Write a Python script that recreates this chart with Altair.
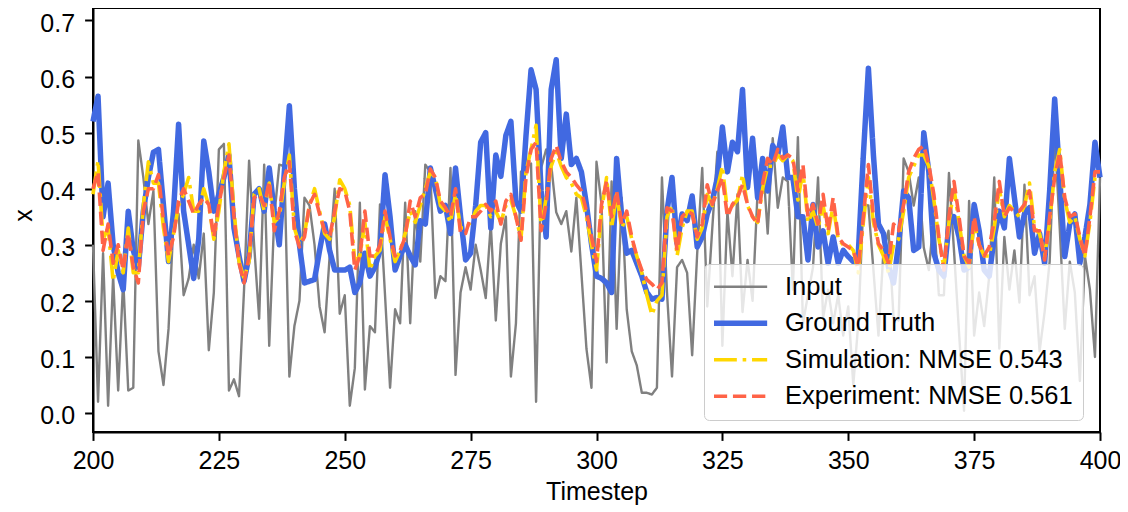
import altair as alt
import pandas as pd

timesteps = list(range(200, 401))

input_vals = [
    0.30, 0.02, 0.285, 0.013, 0.244, 0.04, 0.238, 0.04, 0.045, 0.486,
    0.42, 0.337, 0.396, 0.11, 0.05, 0.15, 0.343, 0.355, 0.21, 0.24,
    0.30, 0.24, 0.32, 0.112, 0.215, 0.47, 0.48, 0.04, 0.06, 0.03,
    0.22, 0.45, 0.30, 0.168, 0.443, 0.12, 0.35, 0.443, 0.44, 0.065,
    0.155, 0.20, 0.384, 0.37, 0.30, 0.19, 0.144, 0.28, 0.40, 0.177,
    0.21, 0.013, 0.08, 0.375, 0.042, 0.155, 0.144, 0.372, 0.21, 0.045,
    0.185, 0.16, 0.375, 0.16, 0.36, 0.27, 0.443, 0.43, 0.205, 0.244,
    0.235, 0.437, 0.068, 0.215, 0.26, 0.22, 0.30, 0.255, 0.205, 0.337,
    0.165, 0.302, 0.35, 0.065, 0.16, 0.43, 0.44, 0.445, 0.02, 0.437,
    0.47, 0.443, 0.358, 0.337, 0.36, 0.288, 0.384, 0.25, 0.115, 0.045,
    0.448, 0.372, 0.09, 0.413, 0.15, 0.384, 0.185, 0.11, 0.085, 0.036,
    0.036, 0.033, 0.045, 0.42, 0.215, 0.065, 0.26, 0.273, 0.25, 0.103,
    0.285, 0.437, 0.19, 0.33, 0.466, 0.12, 0.36, 0.244, 0.39, 0.18,
    0.273, 0.20, 0.396, 0.454, 0.32, 0.49, 0.366, 0.42, 0.413, 0.22,
    0.492, 0.16, 0.21, 0.26, 0.42, 0.17, 0.22, 0.16, 0.21, 0.138,
    0.19, 0.05, 0.16, 0.372, 0.37, 0.255, 0.138, 0.29, 0.325, 0.17,
    0.165, 0.454, 0.43, 0.37, 0.42, 0.295, 0.255, 0.35, 0.21, 0.21,
    0.428, 0.29, 0.144, 0.004, 0.378, 0.138, 0.215, 0.155, 0.244, 0.42,
    0.115, 0.314, 0.22, 0.29, 0.197, 0.407, 0.21, 0.244, 0.11, 0.18,
    0.27, 0.50, 0.33, 0.15, 0.27, 0.215, 0.057, 0.28, 0.22, 0.10,
    0.42,
]

gt_vals = [
    0.52, 0.565, 0.35, 0.41, 0.30, 0.25, 0.22, 0.36, 0.29, 0.26,
    0.36, 0.42, 0.465, 0.47, 0.37, 0.27, 0.36, 0.515, 0.36, 0.30,
    0.24, 0.31, 0.485, 0.43, 0.36, 0.39, 0.42, 0.46, 0.33, 0.28,
    0.235, 0.28, 0.39, 0.40, 0.36, 0.437, 0.36, 0.30, 0.43, 0.548,
    0.40, 0.30, 0.232, 0.235, 0.238, 0.29, 0.337, 0.29, 0.255, 0.255,
    0.255, 0.26, 0.215, 0.232, 0.285, 0.244, 0.26, 0.29, 0.425, 0.35,
    0.255, 0.28, 0.30, 0.28, 0.264, 0.343, 0.337, 0.437, 0.40, 0.36,
    0.37, 0.32, 0.437, 0.35, 0.273, 0.285, 0.37, 0.483, 0.50, 0.33,
    0.46, 0.422, 0.495, 0.52, 0.378, 0.36, 0.495, 0.612, 0.577, 0.396,
    0.314, 0.577, 0.63, 0.454, 0.533, 0.443, 0.454, 0.43, 0.372, 0.302,
    0.244, 0.24, 0.232, 0.215, 0.454, 0.35, 0.285, 0.29, 0.267, 0.244,
    0.215, 0.203, 0.206, 0.203, 0.36, 0.42, 0.302, 0.355, 0.343, 0.387,
    0.296, 0.314, 0.355, 0.378, 0.42, 0.51, 0.43, 0.483, 0.466, 0.577,
    0.402, 0.49, 0.384, 0.454, 0.396, 0.477, 0.46, 0.51, 0.42, 0.42,
    0.35, 0.35, 0.273, 0.372, 0.296, 0.325, 0.267, 0.314, 0.267, 0.29,
    0.279, 0.27, 0.285, 0.46, 0.615, 0.46, 0.337, 0.32, 0.26, 0.232,
    0.302, 0.396, 0.384, 0.29, 0.296, 0.50, 0.43, 0.285, 0.255, 0.244,
    0.337, 0.35, 0.314, 0.255, 0.26, 0.372, 0.325, 0.255, 0.244, 0.314,
    0.36, 0.33, 0.454, 0.384, 0.314, 0.355, 0.366, 0.285, 0.32, 0.267,
    0.396, 0.56, 0.42, 0.279, 0.337, 0.355, 0.267, 0.314, 0.372, 0.483,
    0.42,
]

sim_vals = [
    0.39, 0.45, 0.31, 0.33, 0.235, 0.29, 0.25, 0.33, 0.25, 0.25,
    0.37, 0.448, 0.41, 0.41, 0.33, 0.27, 0.32, 0.37, 0.39, 0.42,
    0.36, 0.36, 0.40, 0.37, 0.31, 0.36, 0.43, 0.48, 0.36, 0.27,
    0.24, 0.27, 0.39, 0.40, 0.36, 0.41, 0.34, 0.35, 0.41, 0.46,
    0.33, 0.30, 0.32, 0.37, 0.40, 0.36, 0.32, 0.31, 0.35, 0.416,
    0.40, 0.37, 0.27, 0.28, 0.34, 0.255, 0.28, 0.29, 0.35, 0.31,
    0.27, 0.29, 0.32, 0.36, 0.34, 0.37, 0.40, 0.43, 0.42, 0.37,
    0.36, 0.34, 0.39, 0.33, 0.33, 0.34, 0.36, 0.37, 0.37, 0.35,
    0.36, 0.34, 0.37, 0.38, 0.35, 0.31, 0.43, 0.47, 0.513, 0.33,
    0.384, 0.44, 0.466, 0.44, 0.42, 0.41, 0.39, 0.384, 0.35, 0.30,
    0.255, 0.36, 0.42, 0.33, 0.39, 0.33, 0.35, 0.31, 0.28, 0.25,
    0.21, 0.175, 0.20, 0.21, 0.35, 0.37, 0.28, 0.33, 0.36, 0.36,
    0.31, 0.33, 0.39, 0.37, 0.40, 0.44, 0.36, 0.37, 0.38, 0.425,
    0.37, 0.35, 0.34, 0.40, 0.44, 0.44, 0.46, 0.45, 0.46, 0.45,
    0.38, 0.43, 0.34, 0.36, 0.33, 0.37, 0.32, 0.37, 0.31, 0.30,
    0.30, 0.29, 0.25, 0.34, 0.42, 0.34, 0.30, 0.28, 0.25, 0.30,
    0.31, 0.36, 0.42, 0.44, 0.46, 0.46, 0.44, 0.38, 0.31, 0.26,
    0.34, 0.40, 0.34, 0.28, 0.26, 0.34, 0.30, 0.28, 0.28, 0.33,
    0.40, 0.35, 0.37, 0.36, 0.35, 0.37, 0.41, 0.33, 0.32, 0.28,
    0.34, 0.43, 0.47, 0.38, 0.34, 0.35, 0.31, 0.28, 0.34, 0.42,
    0.42,
]

exp_vals = [
    0.40, 0.43, 0.29, 0.337, 0.267, 0.30, 0.255, 0.32, 0.26, 0.232,
    0.36, 0.40, 0.40, 0.425, 0.343, 0.28, 0.314, 0.378, 0.40, 0.378,
    0.355, 0.372, 0.384, 0.372, 0.314, 0.372, 0.42, 0.46, 0.35, 0.267,
    0.232, 0.28, 0.384, 0.39, 0.37, 0.413, 0.325, 0.36, 0.42, 0.448,
    0.325, 0.296, 0.314, 0.372, 0.39, 0.355, 0.325, 0.314, 0.36, 0.40,
    0.396, 0.36, 0.255, 0.28, 0.36, 0.28, 0.28, 0.30, 0.36, 0.314,
    0.28, 0.29, 0.314, 0.378, 0.35, 0.384, 0.39, 0.435, 0.42, 0.378,
    0.366, 0.35, 0.40, 0.32, 0.32, 0.35, 0.35, 0.36, 0.372, 0.36,
    0.378, 0.337, 0.378, 0.39, 0.35, 0.308, 0.42, 0.47, 0.483, 0.325,
    0.372, 0.454, 0.477, 0.448, 0.43, 0.42, 0.407, 0.396, 0.36, 0.314,
    0.27, 0.372, 0.413, 0.35, 0.396, 0.337, 0.36, 0.314, 0.28, 0.255,
    0.238, 0.23, 0.22, 0.232, 0.366, 0.36, 0.29, 0.35, 0.36, 0.355,
    0.314, 0.337, 0.407, 0.372, 0.396, 0.42, 0.35, 0.372, 0.384, 0.407,
    0.372, 0.35, 0.337, 0.41, 0.454, 0.443, 0.47, 0.454, 0.46, 0.454,
    0.396, 0.443, 0.35, 0.372, 0.337, 0.39, 0.325, 0.384, 0.314, 0.302,
    0.296, 0.29, 0.26, 0.35, 0.443, 0.35, 0.302, 0.29, 0.267, 0.337,
    0.325, 0.372, 0.43, 0.454, 0.47, 0.477, 0.443, 0.39, 0.314, 0.255,
    0.35, 0.413, 0.35, 0.28, 0.267, 0.35, 0.30, 0.28, 0.296, 0.343,
    0.413, 0.35, 0.366, 0.36, 0.36, 0.372, 0.396, 0.325, 0.325, 0.273,
    0.35, 0.42, 0.465, 0.384, 0.35, 0.355, 0.314, 0.28, 0.35, 0.43,
    0.43,
]

series_names = ["Input", "Ground Truth", "Simulation: NMSE 0.543", "Experiment: NMSE 0.561"]
series_colors = ["#808080", "#4169E1", "#FFD700", "#FF6347"]
series_widths = [2.4, 5.5, 3.6, 3.6]
series_dashes = [[1, 0], [1, 0], [23, 5.8, 3.6, 5.8], [13.3, 5.8]]

x_ticks = [200, 225, 250, 275, 300, 325, 350, 375, 400]
y_ticks = [0.0, 0.1, 0.2, 0.3, 0.4, 0.5, 0.6, 0.7]

rows = []
for name, vals in zip(series_names, [input_vals, gt_vals, sim_vals, exp_vals]):
    for t, v in zip(timesteps, vals):
        rows.append({"Timestep": t, "value": v, "series": name})
df = pd.DataFrame(rows)

FONT = "Liberation Sans"
FS = 25
LFS = 25.5

legend = alt.Legend(
    title=None, orient="none", legendX=611, legendY=256,
    symbolType="stroke", symbolSize=2844, clipHeight=LFS,
    rowPadding=9.5, padding=10, labelOffset=15, symbolOffset=-3,
    fillColor="rgba(255,255,255,0.8)", strokeColor="#cccccc", cornerRadius=5,
    labelFontSize=LFS, labelFont=FONT, labelColor="black", labelLimit=500,
    zindex=1,
)

x_enc = alt.X(
    "Timestep:Q",
    scale=alt.Scale(domain=[200, 400], nice=False, zero=False),
    axis=alt.Axis(values=x_ticks, title="Timestep", labelPadding=8, titlePadding=6,
                  labelFlush=False, labelOverlap=False),
)
y_enc = alt.Y(
    "value:Q",
    scale=alt.Scale(domain=[-0.03389, 0.72229], nice=False, zero=False),
    axis=alt.Axis(values=y_ticks, format=".1f", title="x", labelPadding=10,
                  labelOffset=3,
                  titleX=-62, titleY=207, titleAngle=270, titleBaseline="alphabetic",
                  titleAlign="center", labelOverlap=False),
)
color_enc = alt.Color("series:N", scale=alt.Scale(domain=series_names, range=series_colors), legend=legend)
dash_enc = alt.StrokeDash("series:N", scale=alt.Scale(domain=series_names, range=series_dashes), legend=legend)
width_enc = alt.StrokeWidth("series:N", scale=alt.Scale(type="ordinal", domain=series_names, range=series_widths), legend=legend)

layers = []
for name in series_names:
    layers.append(
        alt.Chart(df)
        .transform_filter(alt.datum.series == name)
        .mark_line(strokeCap="butt", strokeJoin="round")
        .encode(x=x_enc, y=y_enc, color=color_enc, strokeDash=dash_enc, strokeWidth=width_enc)
    )

chart = (
    alt.layer(*layers)
    .properties(
        width=1007, height=424,
        autosize=alt.AutoSizeParams(type="none"),
        padding={"left": 85, "top": 0, "right": 20, "bottom": 76},
    )
    .configure_view(stroke="black", strokeWidth=2)
    .configure_axis(
        grid=False, domainColor="black", domainWidth=2, tickColor="black", tickWidth=2,
        tickSize=8.4, labelFont=FONT, labelFontSize=FS, labelColor="black",
        titleFont=FONT, titleFontSize=FS, titleFontWeight="normal", titleColor="black",
    )
)

chart.save("out.html", embed_options={"renderer": "svg", "actions": False})
